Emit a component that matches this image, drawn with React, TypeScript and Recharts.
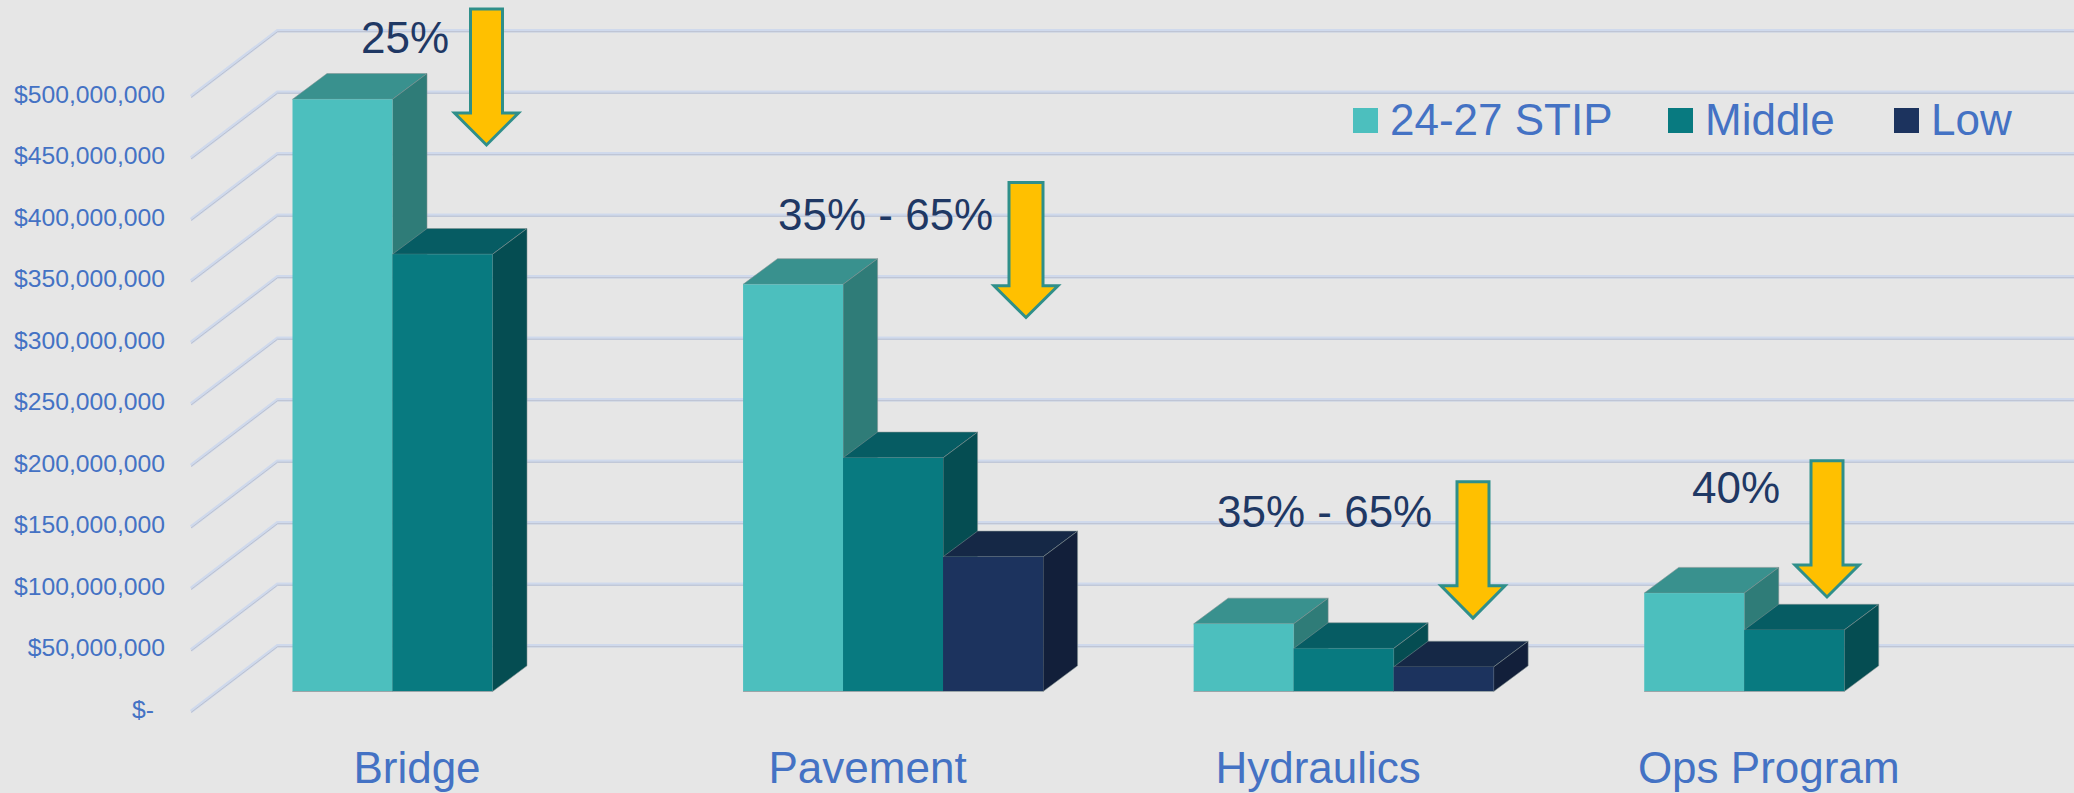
import React from 'react';
import { BarChart, Bar, XAxis, YAxis, CartesianGrid, Legend } from 'recharts';

const categories = ['Bridge', 'Pavement', 'Hydraulics', 'Ops Program'];
const stipValues = [481500000, 331000000, 55000000, 80000000];
const middleValues = [355500000, 190000000, 35000000, 50000000];
const lowValues = [null, 109500000, 20000000, null];
const yTicks = [0, 50000000, 100000000, 150000000, 200000000, 250000000, 300000000, 350000000, 400000000, 450000000, 500000000];
const cutLabels = ['25%', '35% - 65%', '35% - 65%', '40%'];

const chartData = categories.map((name, i) => ({
  name,
  stip: stipValues[i],
  middle: middleValues[i],
  low: lowValues[i],
}));

const FONT = '"Liberation Sans", Arial, sans-serif';
const BLUE = '#4472c4';
const NAVY = '#1f3864';

// oblique offset used for the box depth
const DEPTH_X = 34.5;
const DEPTH_Y = 25.7;

const makeBox = (topFill: string, sideFill: string) => (props: any) => {
  const { x, y, width, height, fill } = props;
  if (!height || height <= 0) return <g />;
  const r = x + width;
  const b = y + height;
  const edge = 'rgba(130,145,145,0.55)';
  return (
    <g>
      <polygon points={`${x},${y} ${x + DEPTH_X},${y - DEPTH_Y} ${r + DEPTH_X},${y - DEPTH_Y} ${r},${y}`} fill={topFill} stroke={edge} strokeWidth={1} />
      <polygon points={`${r},${y} ${r + DEPTH_X},${y - DEPTH_Y} ${r + DEPTH_X},${b - DEPTH_Y} ${r},${b}`} fill={sideFill} stroke={edge} strokeWidth={1} />
      <rect x={x} y={y} width={width} height={height} fill={fill} />
      <line x1={x} y1={b} x2={r} y2={b} stroke="#9aa5a8" strokeWidth={1} />
    </g>
  );
};

// floor and walls: each gridline runs along the side wall, then across the back wall
const gridLine = (props: any) => {
  const y = props.y1;
  const pts = `191,${y + 20} 277.5,${y - 45.8} 2074,${y - 45.8}`;
  return (
    <g key={props.key}>
      <polyline points={pts} fill="none" stroke="#cfd9ec" strokeWidth={3.5} />
      <polyline points={pts} fill="none" stroke="#bcc1cf" strokeWidth={1} transform="translate(0,1)" />
    </g>
  );
};

const YTick = (props: any) => {
  const { y, payload } = props;
  const isZero = payload.value === 0;
  const text = isZero ? '$-' : '$' + payload.value.toLocaleString('en-US');
  return (
    <text x={isZero ? 154 : 165} y={y + 26} textAnchor="end" fontFamily={FONT} fontSize={24.7} fill={BLUE}>
      {text}
    </text>
  );
};

const XTick = (props: any) => {
  const { x, payload } = props;
  return (
    <text x={x - 26} y={782.7} textAnchor="middle" fontFamily={FONT} fontSize={44} fill={BLUE}>
      {payload.value}
    </text>
  );
};

const legendSpots = [1353, 1668, 1894];

const LegendRow = ({ payload }: any) => (
  <div style={{ position: 'relative', height: 0 }}>
    {(payload || []).map((item: any, i: number) => (
      <div key={item.value} style={{ position: 'absolute', left: legendSpots[i], top: 0 }}>
        <div style={{ position: 'absolute', left: 0, top: 108, width: 25, height: 25, background: item.color }} />
        <div style={{ position: 'absolute', left: 37, top: 95, font: `44px ${FONT}`, lineHeight: '50px', color: BLUE, whiteSpace: 'nowrap' }}>
          {item.value}
        </div>
      </div>
    ))}
  </div>
);

const arrowSpots = [
  { cx: 486.5, top: 9, shoulder: 113, tip: 145, shaft: 16, head: 32, textX: 361, textY: 53 },
  { cx: 1026, top: 182.5, shoulder: 285.7, tip: 317.5, shaft: 17, head: 32, textX: 778, textY: 230 },
  { cx: 1473, top: 481.7, shoulder: 585.7, tip: 618, shaft: 16, head: 32, textX: 1217, textY: 527 },
  { cx: 1827, top: 460.7, shoulder: 565, tip: 597, shaft: 16, head: 32, textX: 1692, textY: 503 },
];

const DownArrow = ({ cx, top, shoulder, tip, shaft, head }: any) => (
  <polygon
    points={`${cx - shaft},${top} ${cx + shaft},${top} ${cx + shaft},${shoulder} ${cx + head},${shoulder} ${cx},${tip} ${cx - head},${shoulder} ${cx - shaft},${shoulder}`}
    fill="#ffc000"
    stroke="#2f8f8a"
    strokeWidth={3}
  />
);

export default function App() {
  return (
    <div style={{ position: 'absolute', left: 0, top: 0, width: 2074, height: 793, background: '#e6e6e6', overflow: 'hidden' }}>
      <BarChart
        width={2074}
        height={793}
        data={chartData}
        margin={{ top: 76.5, right: 54, left: 0, bottom: 0 }}
        barCategoryGap={74.8}
        barGap={0}
      >
        <CartesianGrid vertical={false} horizontal={gridLine} />
        <XAxis dataKey="name" height={101.5} axisLine={false} tickLine={false} tick={XTick} interval={0} />
        <YAxis width={217.7} domain={[0, 500000000]} ticks={yTicks} axisLine={false} tickLine={false} tick={YTick} />
        <Legend content={<LegendRow />} itemSorter={null} wrapperStyle={{ left: 0, top: 0, width: 2074, height: 0 }} />
        <Bar dataKey="stip" name="24-27 STIP" fill="#4cbfbe" shape={makeBox('#39918e', '#2f7c78')} isAnimationActive={false} />
        <Bar dataKey="middle" name="Middle" fill="#087a80" shape={makeBox('#065c63', '#054d52')} isAnimationActive={false} />
        <Bar dataKey="low" name="Low" fill="#1c335e" shape={makeBox('#152846', '#121f3a')} isAnimationActive={false} />
        <g>
          {arrowSpots.map((a, i) => (
            <g key={i}>
              <text x={a.textX} y={a.textY} fontFamily={FONT} fontSize={44} fill={NAVY}>
                {cutLabels[i]}
              </text>
              <DownArrow {...a} />
            </g>
          ))}
        </g>
      </BarChart>
    </div>
  );
}
